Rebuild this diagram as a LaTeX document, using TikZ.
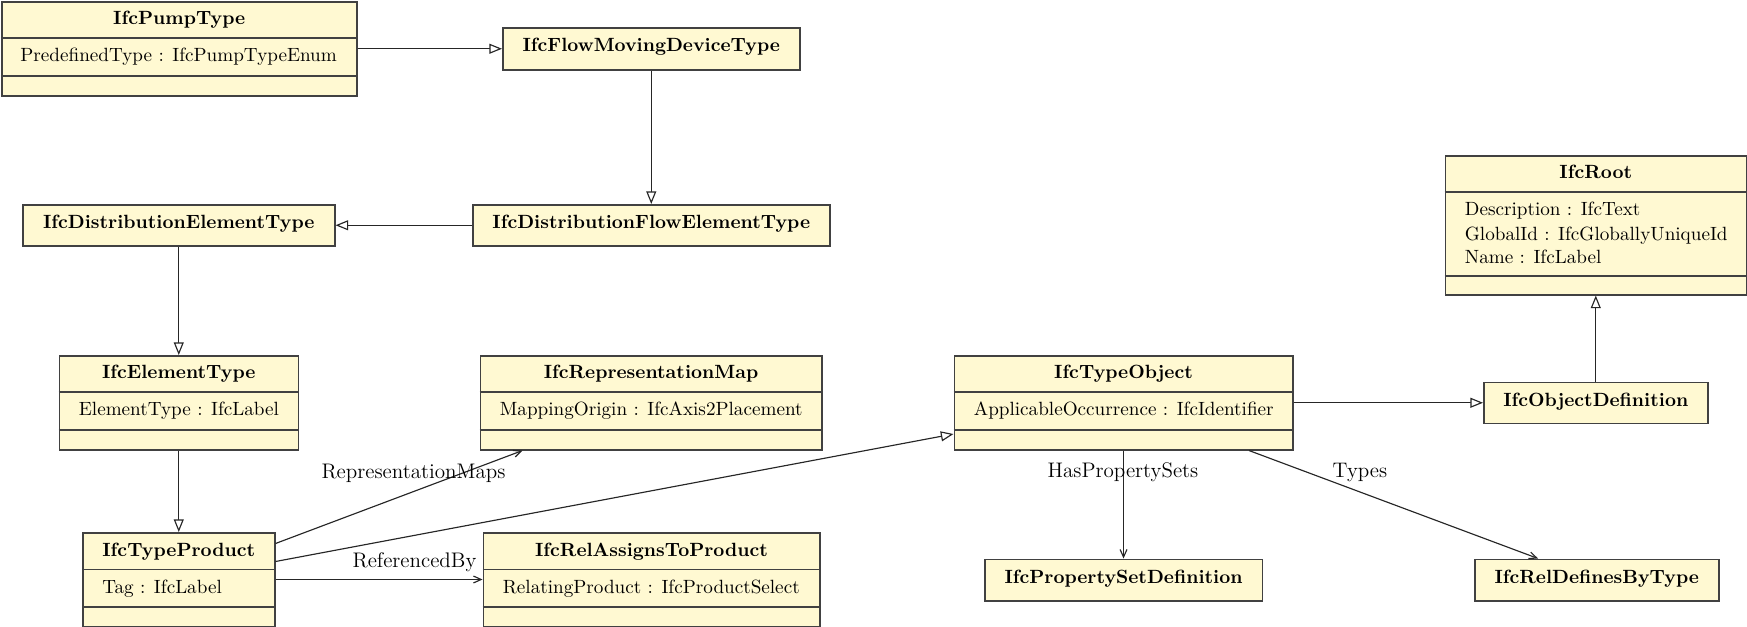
\documentclass[tikz,border=0pt]{standalone}
\usetikzlibrary{arrows.meta,calc}
\definecolor{clsfill}{RGB}{255,249,210}
\definecolor{clsline}{RGB}{65,65,65}
\newlength\pxu
\setlength\pxu{0.522pt}
\tikzset{
  cls/.style={draw=clsline, fill=clsfill, line width=0.8pt, inner sep=0pt, anchor=north west},
  ttl/.style={font=\bfseries, inner sep=0pt, anchor=base},
  att/.style={inner sep=0pt, anchor=base west},
  sep/.style={draw=clsline, line width=0.8pt},
  gen/.style={draw=black!85, line width=0.6pt, -{Triangle[open,length=6.6pt,width=5.2pt,fill=white]}},
  assoc/.style={draw=black!85, line width=0.6pt, -{Straight Barb[length=4pt,width=3.6pt]}},
  lbl/.style={font=\fontsize{11}{13}\selectfont, inner sep=0pt, anchor=center},
}
\newcommand\clsbox[5]{\node[cls, minimum width=#4\pxu, minimum height=#5\pxu] (#1) at (#2,#3) {};}
\newcommand\clsdiv[2]{\draw[sep] ($(#1.north west)+(0,#2)$) -- ($(#1.north east)+(0,#2)$);}
\begin{document}
\begin{tikzpicture}[x=0.522pt, y=-0.522pt]
\path[use as bounding box] (0,0) rectangle (1747,627);

% ---- class boxes ----
\clsbox{pump}{1}{1}{355}{94}
\clsdiv{pump}{37}\clsdiv{pump}{75}
\node[ttl] (pumpT) at ($(pump.north)+(0,23.5)$) {IfcPumpType};
\node[att] (pumpA) at ($(pump.north west)+(19,60.5)$) {PredefinedType : IfcPumpTypeEnum};

\clsbox{flow}{502}{27}{297}{42}
\node[ttl] (flowT) at ($(flow.north)+(0,25)$) {IfcFlowMovingDeviceType};

\clsbox{distflow}{472}{204}{357}{41}
\node[ttl] (distflowT) at ($(distflow.north)+(0,25)$) {IfcDistributionFlowElementType};

\clsbox{distelem}{22}{204}{312}{41}
\node[ttl] (distelemT) at ($(distelem.north)+(0,25)$) {IfcDistributionElementType};

\clsbox{elem}{58.5}{355}{239}{94}
\clsdiv{elem}{37}\clsdiv{elem}{75}
\node[ttl] (elemT) at ($(elem.north)+(0,23.5)$) {IfcElementType};
\node[att] (elemA) at ($(elem.north west)+(20,60.5)$) {ElementType : IfcLabel};

\clsbox{repmap}{479.5}{355}{341.5}{94}
\clsdiv{repmap}{37}\clsdiv{repmap}{75}
\node[ttl] (repmapT) at ($(repmap.north)+(0,23.5)$) {IfcRepresentationMap};
\node[att] (repmapA) at ($(repmap.north west)+(20,60.5)$) {MappingOrigin : IfcAxis2Placement};

\clsbox{tobj}{953.5}{355}{338.5}{94}
\clsdiv{tobj}{37}\clsdiv{tobj}{75}
\node[ttl] (tobjT) at ($(tobj.north)+(0,23.5)$) {IfcTypeObject};
\node[att] (tobjA) at ($(tobj.north west)+(20,60.5)$) {ApplicableOccurrence : IfcIdentifier};

\clsbox{objdef}{1483}{381.5}{224}{41}
\node[ttl] (objdefT) at ($(objdef.north)+(0,25)$) {IfcObjectDefinition};

\clsbox{root}{1444.5}{155}{301}{139}
\clsdiv{root}{37}\clsdiv{root}{121}
\node[ttl] (rootT) at ($(root.north)+(0,23.5)$) {IfcRoot};
\node[att] (rootA1) at ($(root.north west)+(20,61)$) {Description : IfcText};
\node[att] (rootA2) at ($(root.north west)+(20,85.5)$) {GlobalId : IfcGloballyUniqueId};
\node[att] (rootA3) at ($(root.north west)+(20,109)$) {Name : IfcLabel};

\clsbox{tprod}{82}{532}{192}{93.5}
\clsdiv{tprod}{37.5}\clsdiv{tprod}{75}
\node[ttl] (tprodT) at ($(tprod.north)+(0,24)$) {IfcTypeProduct};
\node[att] (tprodA) at ($(tprod.north west)+(20,61)$) {Tag : IfcLabel};

\clsbox{relassign}{482.5}{532}{336.5}{93.5}
\clsdiv{relassign}{37.5}\clsdiv{relassign}{75}
\node[ttl] (relassignT) at ($(relassign.north)+(0,24)$) {IfcRelAssignsToProduct};
\node[att] (relassignA) at ($(relassign.north west)+(20,61)$) {RelatingProduct : IfcProductSelect};

\clsbox{psd}{984}{558.5}{277.5}{41.5}
\node[ttl] (psdT) at ($(psd.north)+(0,25)$) {IfcPropertySetDefinition};

\clsbox{reldef}{1474}{558.5}{244}{41.5}
\node[ttl] (reldefT) at ($(reldef.north)+(0,25)$) {IfcRelDefinesByType};

% ---- generalisations ----
\draw[gen] (pump.east) -- (flow.west);
\draw[gen] (flow.south) -- (distflow.north);
\draw[gen] (distflow.west) -- (distelem.east);
\draw[gen] (distelem.south) -- (elem.north);
\draw[gen] (elem.south) -- (tprod.north);
\draw[gen] ($(tprod.north east)+(0,29.5)$) -- ($(tobj.north west)+(0,79)$);
\draw[gen] (tobj.east) -- (objdef.west);
\draw[gen] (objdef.north) -- (root.south);

% ---- associations ----
\draw[assoc] ($(tprod.north east)+(0,11.5)$) -- ($(repmap.south west)+(43,0)$);
\draw[assoc] ($(tprod.north east)+(0,47.5)$) -- ($(relassign.north west)+(0,47.5)$);
\draw[assoc] (tobj.south) -- (psd.north);
\draw[assoc] ($(tobj.south west)+(295.5,0)$) -- ($(reldef.north west)+(64,0)$);

% ---- labels ----
\node[lbl] (lblrep) at (413.5,473) {RepresentationMaps};
\node[lbl] (lblref) at (414.5,562) {ReferencedBy};
\node[lbl] (lblhps) at (1123,472.7) {HasPropertySets};
\node[lbl] (lbltyp) at (1360,472.7) {Types};
\end{tikzpicture}
\end{document}
